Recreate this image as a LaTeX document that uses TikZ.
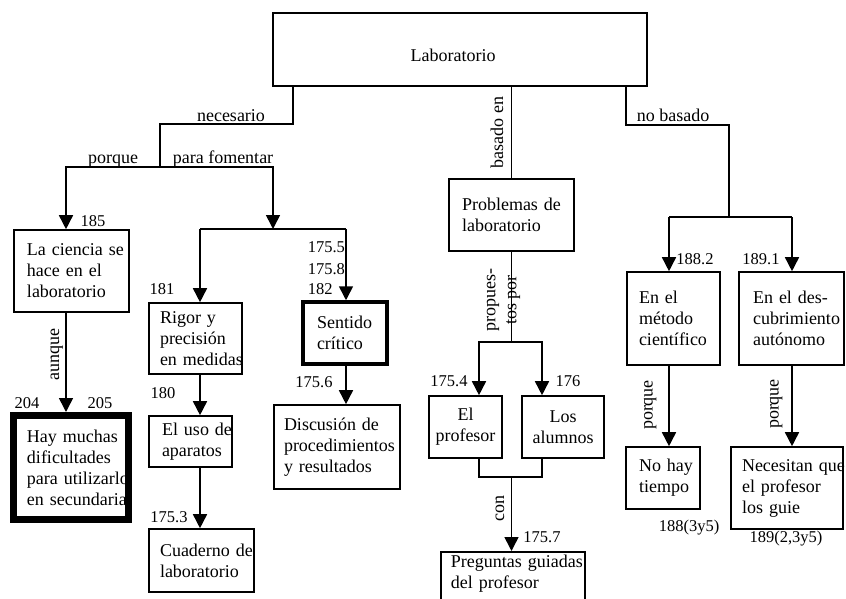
\documentclass[tikz,border=0pt]{standalone}
\usepackage{fontspec}
\setmainfont{Liberation Serif}
\usetikzlibrary{arrows.meta}
\hyphenpenalty=10000
\exhyphenpenalty=10000
\tikzset{
  box/.style={draw, line width=1.6pt, inner ysep=0pt, align=left, font=\fontsize{18pt}{21pt}\selectfont},
  num/.style={font=\fontsize{16.5pt}{20pt}\selectfont, inner sep=0pt, anchor=base},
  lbl/.style={font=\fontsize{18pt}{21pt}\selectfont, inner sep=0pt, anchor=base},
  vlbl/.style={lbl, rotate=90},
  arr/.style={-{Triangle[width=14pt,length=14pt]}},
}
\begin{document}
\begin{tikzpicture}[x=1pt, y=-1pt, line width=1.6pt]
\useasboundingbox (0,0) rectangle (846,599);
\clip (0,0) rectangle (846,599);

% boxes
\node[box, text width=98.6pt, inner xsep=137.7pt, minimum height=73pt, text height=23.3pt, text depth=0pt] (lab) at (460,49.5) {Laboratorio};
\node[box, text width=89pt, inner xsep=13pt, minimum height=82pt] (ciencia) at (71.5,271) {La~ciencia~se\\hace~en~el\\laboratorio};
\node[box, line width=7pt, text width=88pt, inner xsep=13.5pt, minimum height=104pt] (hay) at (71,467.5) {Hay~muchas\\dificultades\\para~utilizarlo\\en~secundaria};
\node[box, text width=71pt, inner xsep=11pt, minimum height=71pt] (rigor) at (195.5,338.5) {Rigor~y\\precisión\\en~medidas};
\node[box, text width=57pt, inner xsep=13pt, minimum height=51pt] (uso) at (190.5,441.5) {El~uso~de\\aparatos};
\node[box, text width=83pt, inner xsep=11pt, minimum height=63pt] (cuaderno) at (201.5,560.5) {Cuaderno~de\\laboratorio};
\node[box, line width=3.5pt, text width=56pt, inner xsep=14pt, minimum height=62pt] (sentido) at (345,333) {Sentido\\crítico};
\node[box, text width=106pt, inner xsep=10pt, minimum height=84pt] (discusion) at (337,447) {Discusión~de\\procedimientos\\y~resultados};
\node[box, text width=99pt, inner xsep=13pt, minimum height=72pt] (problemas) at (511.5,215) {Problemas~de\\laboratorio};
\node[box, align=center, text width=65pt, inner xsep=4pt, minimum height=62pt] (profesor) at (465.5,427) {El\\profesor};
\node[box, align=center, text width=74pt, inner xsep=4pt, minimum height=62pt] (alumnos) at (563,427) {Los\\alumnos};
\node[box, anchor=north west, text width=124pt, inner xsep=10pt, inner ysep=3pt, minimum height=0pt] (preguntas) at (440,551) {Preguntas~guiadas\\del~profesor\\\mbox{}};
\node[box, text width=69pt, inner xsep=12pt, minimum height=93pt] (metodo) at (673.5,318.5) {En~el\\método\\científico};
\node[box, text width=77pt, inner xsep=14pt, minimum height=93pt] (descub) at (791.5,318.5) {En~el~des-\\cubrimiento\\autónomo};
\node[box, text width=48pt, inner xsep=13pt, minimum height=62pt] (notiempo) at (663,478) {No~hay\\tiempo};
\node[box, text width=90pt, inner xsep=11pt, minimum height=82pt] (necesitan) at (787,488) {Necesitan~que\\el~profesor\\los~guie};

% junction coordinates
\coordinate (a1) at (293,124);
\coordinate (a2) at (160,124);
\coordinate (j1) at (160,167);
\coordinate (t1) at (66,167);
\coordinate (t2) at (273,167);
\coordinate (j2) at (273,229);
\coordinate (b1) at (200,229);
\coordinate (b2) at (346,229);
\coordinate (p1) at (479,342);
\coordinate (p2) at (542,342);
\coordinate (q1) at (479,477);
\coordinate (q2) at (542,477);
\coordinate (q0) at (511.5,477);
\coordinate (r1) at (626,125);
\coordinate (r2) at (729,125);
\coordinate (r3) at (729,217);
\coordinate (s1) at (669,217);
\coordinate (s2) at (792,217);

% connectors
\draw (lab.south -| a1) -- (a1) -- (a2) -- (j1);
\draw[arr] (j1) -- (t1) -- (ciencia.north -| t1);
\draw[arr] (j1) -- (t2) -- (j2);
\draw (b1) -- (b2);
\draw[arr] (b1) -- (rigor.north -| b1);
\draw[arr] (b2) -- (sentido.north -| b2);
\draw[arr] (ciencia.south -| t1) -- (hay.north -| t1);
\draw[arr] (rigor.south -| b1) -- (uso.north -| b1);
\draw[arr] (uso.south -| b1) -- (cuaderno.north -| b1);
\draw[arr] (sentido.south -| b2) -- (discusion.north -| b2);

\draw (lab.south -| problemas.north) -- (problemas.north);
\draw (problemas.south) -- (problemas.south |- p1);
\draw[arr] (problemas.south |- p1) -- (p1) -- (profesor.north -| p1);
\draw[arr] (problemas.south |- p2) -- (p2) -- (alumnos.north -| p2);
\draw (profesor.south -| q1) -- (q1) -- (q2) -- (alumnos.south -| q2);
\draw[arr] (q0) -- (preguntas.north -| q0);

\draw (lab.south -| r1) -- (r1) -- (r2) -- (r3);
\draw (s1) -- (s2);
\draw[arr] (s1) -- (metodo.north -| s1);
\draw[arr] (s2) -- (descub.north -| s2);
\draw[arr] (metodo.south -| s1) -- (notiempo.north -| s1);
\draw[arr] (descub.south -| s2) -- (necesitan.north -| s2);

% connector labels
\node[lbl] (lnec) at (231,121.5) {necesario};
\node[lbl] (lpor) at (113,164) {porque};
\node[lbl] (lpara) at (223,164) {para fomentar};
\node[lbl] (lno) at (673,121.5) {no basado};
\node[vlbl] (laun) at (59,354.5) {aunque};
\node[vlbl] (lbas) at (503,132.5) {basado en};
\node[vlbl, align=center, anchor=center] (lprop) at (503.5,300) {propues-\\tos por};
\node[vlbl] (lcon) at (504,508.5) {con};
\node[vlbl] (lpq1) at (652.5,405) {porque};
\node[vlbl] (lpq2) at (778.5,404) {porque};

% numbers
\node[num] (n185) at (93,226) {185};
\node[num] (n181) at (162,294.5) {181};
\node[num] (n204) at (27,408) {204};
\node[num] (n205) at (100,408) {205};
\node[num] (n180) at (163,398.5) {180};
\node[num] (n1753) at (169,522) {175.3};
\node[num, anchor=base west] (n1755) at (307,252.7) {175.5};
\node[num, anchor=base west] (n1758) at (307,274) {175.8};
\node[num, anchor=base west] (n182) at (307,294.5) {182};
\node[num] (n1756) at (314,387) {175.6};
\node[num] (n1754) at (449,386.5) {175.4};
\node[num] (n176) at (568,386.5) {176};
\node[num] (n1757) at (542,542.5) {175.7};
\node[num] (n1882) at (695,264) {188.2};
\node[num] (n1891) at (761,264) {189.1};
\node[num] (n188) at (689,531.5) {188(3y5)};
\node[num] (n189) at (786,542) {189(2,3y5)};
\end{tikzpicture}
\end{document}
